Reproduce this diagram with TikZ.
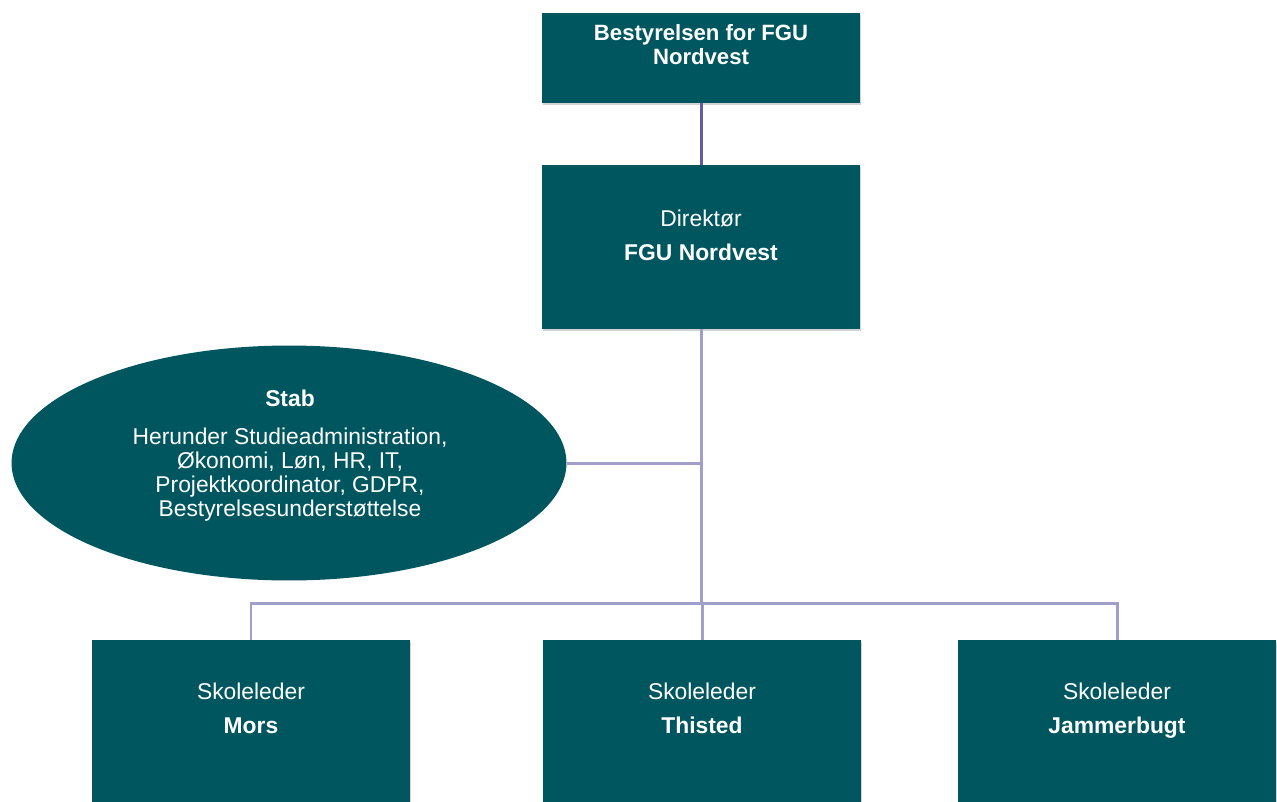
\documentclass[tikz,border=0pt]{standalone}
\usepackage{fontspec}
\setmainfont{Liberation Sans}
\usetikzlibrary{positioning,shapes.geometric,shadows}
\definecolor{fguteal}{HTML}{00565E}
\definecolor{linjelys}{HTML}{A19ECA}
\definecolor{linjemork}{HTML}{5F5C9F}

\begin{document}
\begin{tikzpicture}[x=0.02cm,y=-0.02cm,
  boks/.style={rectangle,fill=fguteal,minimum width=6.36cm,inner sep=0pt,
    drop shadow={shadow xshift=0.6pt,shadow yshift=-1.2pt,opacity=0.35}},
  tekst/.style={text=white,align=center,font=\fontsize{13}{13.6}\selectfont},
  linje/.style={draw=linjelys,line width=1.7pt}]

\useasboundingbox (0,0) rectangle (1277,801);
\clip (0,0) rectangle (1277,801);

% bokse
\node[boks,minimum height=1.8cm] (bestyrelse) at (701,58) {};
\node[boks,minimum height=3.28cm] (direktor) at (701,247) {};
\node[ellipse,fill=fguteal,minimum width=11.1cm,minimum height=4.7cm,inner sep=0pt] (stab) at (289,463) {};

\node[boks,minimum height=3.8cm] (mors) at (251,735) {};
\node[boks,minimum height=3.8cm] (thisted) at (702,735) {};
\node[boks,minimum height=3.8cm] (jammerbugt) at (1117,735) {};

% tekster
\node[tekst,font=\fontsize{12.6}{13.6}\selectfont\bfseries] (bestyrelse-tekst) at (701,48) {Bestyrelsen for FGU\\Nordvest\strut};
\node[tekst] (direktor-tekst) at (701,239) {Direktør\\[5.5pt]\textbf{FGU Nordvest}\strut};
\node[tekst] (stab-tekst) at (290,457) {\textbf{Stab}\\[8pt]Herunder Studieadministration,\\Økonomi, Løn, HR, IT,\\Projektkoordinator, GDPR,\\Bestyrelsesunderstøttelse\strut};

\node[tekst] (mors-tekst) at (251,712) {Skoleleder\\[6pt]\textbf{Mors}\strut};
\node[tekst] (thisted-tekst) at (702,712) {Skoleleder\\[6pt]\textbf{Thisted}\strut};
\node[tekst] (jammerbugt-tekst) at (1117,712) {Skoleleder\\[6pt]\textbf{Jammerbugt}\strut};

% linjer
\coordinate (stabpunkt) at (701,463);
\coordinate (fordeling) at (701,603);

\draw[linje,draw=linjemork] (bestyrelse) -- (direktor);
\draw[linje] (direktor) -- (fordeling);
\draw[linje] (stab.east) -- (stabpunkt);
\draw[linje] (mors.north) |- (fordeling) -| (jammerbugt.north);
\draw[linje] (fordeling) -| (thisted.north);

\end{tikzpicture}
\end{document}
